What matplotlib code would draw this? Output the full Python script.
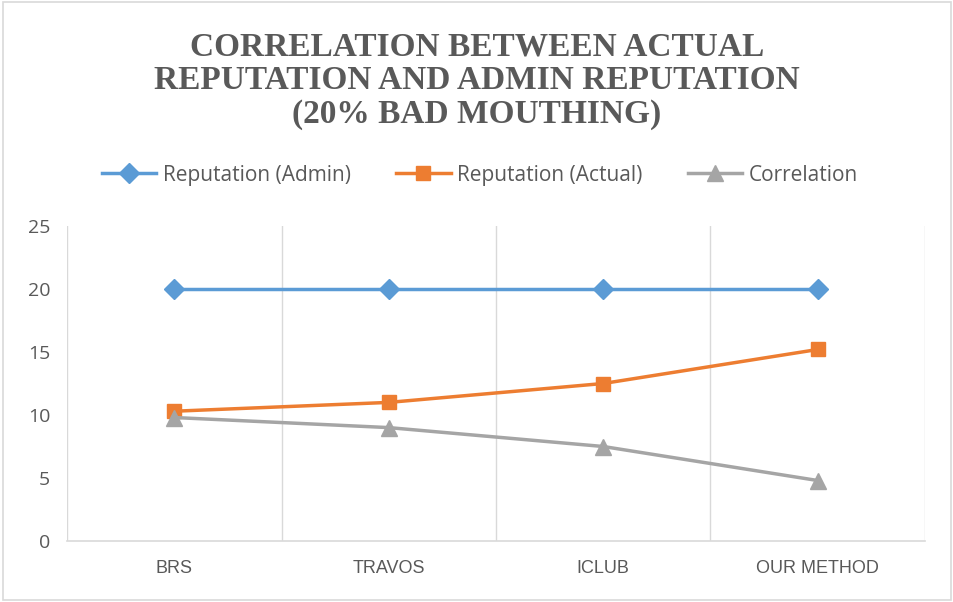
import matplotlib.pyplot as plt
from matplotlib.patches import Rectangle

categories = ["BRS", "TRAVOS", "ICLUB", "OUR METHOD"]
rep_admin = [20, 20, 20, 20]
rep_actual = [10.3, 11.0, 12.5, 15.2]
correlation = [9.8, 9.0, 7.5, 4.8]
y_ticks = [0, 5, 10, 15, 20, 25]

title = "CORRELATION BETWEEN ACTUAL\nREPUTATION AND ADMIN REPUTATION\n(20% BAD MOUTHING)"

plt.rcParams['font.family'] = ['Open Sans', 'DejaVu Sans']

fig = plt.figure(figsize=(9.54, 6.02), dpi=100)
ax = fig.add_axes([67/954, 1 - 541/602, (925-67)/954, (541-226)/602])

x = range(len(categories))
ax.plot(x, rep_admin, color="#5b9bd5", lw=2.5, marker="D", ms=10, label="Reputation (Admin)")
ax.plot(x, rep_actual, color="#ed7d31", lw=2.5, marker="s", ms=10, label="Reputation (Actual)")
ax.plot(x, correlation, color="#a5a5a5", lw=2.5, marker="^", ms=11, label="Correlation")

ax.set_xlim(-0.5, len(categories) - 0.5)
ax.set_ylim(0, 25)
ax.set_yticks(y_ticks)
ax.set_xticks(list(x))
ax.set_xticklabels(categories)
ax.set_xticks([i + 0.5 for i in range(-1, len(categories))], minor=True)
ax.grid(True, which="minor", axis="x", color="#d9d9d9", lw=1)
ax.tick_params(which="both", length=0)
ax.tick_params(axis="y", labelsize=14, colors="#595959", pad=12)
ax.tick_params(axis="x", labelsize=13, colors="#595959", pad=14)
for lab in ax.get_xticklabels():
    lab.set_fontfamily(['Liberation Sans', 'DejaVu Sans'])
for s in ["top", "right", "left"]:
    ax.spines[s].set_visible(False)
ax.spines["bottom"].set_color("#d9d9d9")
ax.spines["bottom"].set_linewidth(1.2)

fig.text(0.5, 1 - 81/602, title, ha="center", va="center", fontsize=24,
         fontweight="bold", color="#595959", family=["Liberation Serif", "DejaVu Serif"],
         linespacing=1.1)

fig.legend(loc="center", bbox_to_anchor=(0.503, 1 - 175/602), ncol=3, frameon=False,
           fontsize=15, labelcolor="#595959", handlelength=2.6, columnspacing=2.2,
           handletextpad=0.3)

fig.patches.append(Rectangle((0.003, 0.003), 0.994, 0.994, transform=fig.transFigure,
                             fill=False, edgecolor="#d9d9d9", lw=1.2))

fig.savefig("out.png", dpi=100)
